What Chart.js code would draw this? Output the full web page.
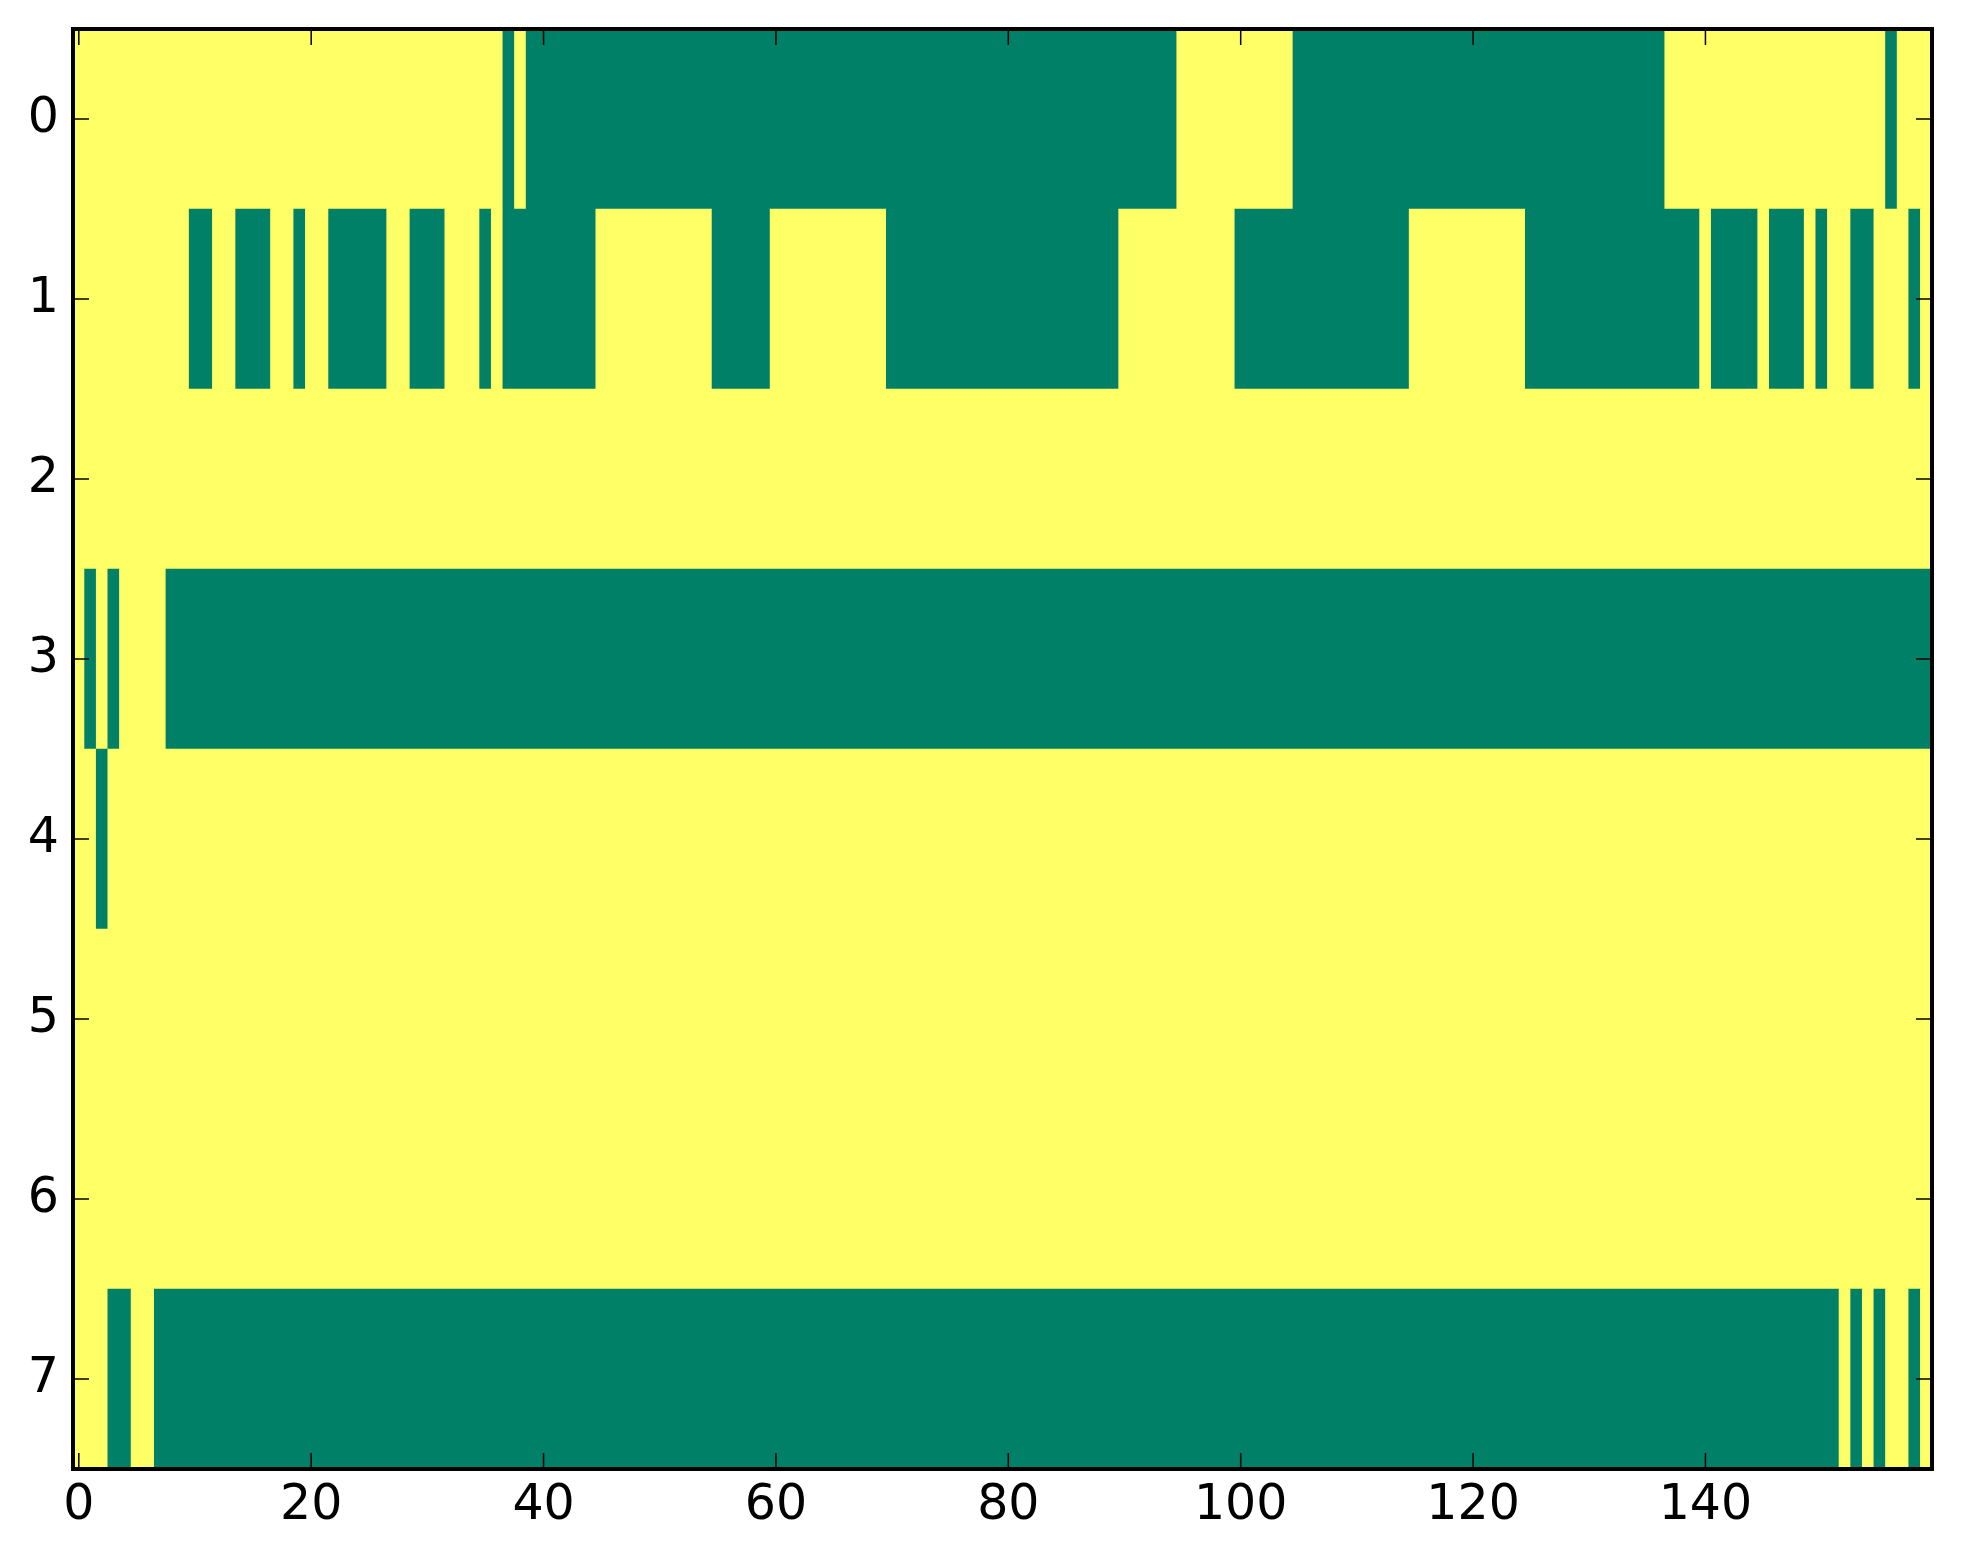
<!DOCTYPE html>
<html>
<head>
<meta charset="utf-8">
<script src="https://cdn.jsdelivr.net/npm/chart.js@4.4.0/dist/chart.umd.min.js"></script>
<style>
  html, body { margin: 0; padding: 0; background: #fff; }
  #wrap { width: 1963px; height: 1564px; }
</style>
</head>
<body>
<div id="wrap"><canvas id="grid"></canvas></div>
<script>
// 8 rows x 160 columns, 1 = high (yellow), 0 = low (green)
const rowLabels = [0, 1, 2, 3, 4, 5, 6, 7]
const xTicks = [0, 20, 40, 60, 80, 100, 120, 140]

const row0 = [
  1,1,1,1,1,1,1,1,1,1,1,1,1,1,1,1,1,1,1,1,
  1,1,1,1,1,1,1,1,1,1,1,1,1,1,1,1,1,0,1,0,
  0,0,0,0,0,0,0,0,0,0,0,0,0,0,0,0,0,0,0,0,
  0,0,0,0,0,0,0,0,0,0,0,0,0,0,0,0,0,0,0,0,
  0,0,0,0,0,0,0,0,0,0,0,0,0,0,0,1,1,1,1,1,
  1,1,1,1,1,0,0,0,0,0,0,0,0,0,0,0,0,0,0,0,
  0,0,0,0,0,0,0,0,0,0,0,0,0,0,0,0,0,1,1,1,
  1,1,1,1,1,1,1,1,1,1,1,1,1,1,1,1,0,1,1,1
]
const row1 = [
  1,1,1,1,1,1,1,1,1,1,0,0,1,1,0,0,0,1,1,0,
  1,1,0,0,0,0,0,1,1,0,0,0,1,1,1,0,1,0,0,0,
  0,0,0,0,0,1,1,1,1,1,1,1,1,1,1,0,0,0,0,0,
  1,1,1,1,1,1,1,1,1,1,0,0,0,0,0,0,0,0,0,0,
  0,0,0,0,0,0,0,0,0,0,1,1,1,1,1,1,1,1,1,1,
  0,0,0,0,0,0,0,0,0,0,0,0,0,0,0,1,1,1,1,1,
  1,1,1,1,1,0,0,0,0,0,0,0,0,0,0,0,0,0,0,0,
  1,0,0,0,0,1,0,0,0,1,0,1,1,0,0,1,1,1,0,1
]
const row2 = [
  1,1,1,1,1,1,1,1,1,1,1,1,1,1,1,1,1,1,1,1,
  1,1,1,1,1,1,1,1,1,1,1,1,1,1,1,1,1,1,1,1,
  1,1,1,1,1,1,1,1,1,1,1,1,1,1,1,1,1,1,1,1,
  1,1,1,1,1,1,1,1,1,1,1,1,1,1,1,1,1,1,1,1,
  1,1,1,1,1,1,1,1,1,1,1,1,1,1,1,1,1,1,1,1,
  1,1,1,1,1,1,1,1,1,1,1,1,1,1,1,1,1,1,1,1,
  1,1,1,1,1,1,1,1,1,1,1,1,1,1,1,1,1,1,1,1,
  1,1,1,1,1,1,1,1,1,1,1,1,1,1,1,1,1,1,1,1
]
const row3 = [
  1,0,1,0,1,1,1,1,0,0,0,0,0,0,0,0,0,0,0,0,
  0,0,0,0,0,0,0,0,0,0,0,0,0,0,0,0,0,0,0,0,
  0,0,0,0,0,0,0,0,0,0,0,0,0,0,0,0,0,0,0,0,
  0,0,0,0,0,0,0,0,0,0,0,0,0,0,0,0,0,0,0,0,
  0,0,0,0,0,0,0,0,0,0,0,0,0,0,0,0,0,0,0,0,
  0,0,0,0,0,0,0,0,0,0,0,0,0,0,0,0,0,0,0,0,
  0,0,0,0,0,0,0,0,0,0,0,0,0,0,0,0,0,0,0,0,
  0,0,0,0,0,0,0,0,0,0,0,0,0,0,0,0,0,0,0,0
]
const row4 = [
  1,1,0,1,1,1,1,1,1,1,1,1,1,1,1,1,1,1,1,1,
  1,1,1,1,1,1,1,1,1,1,1,1,1,1,1,1,1,1,1,1,
  1,1,1,1,1,1,1,1,1,1,1,1,1,1,1,1,1,1,1,1,
  1,1,1,1,1,1,1,1,1,1,1,1,1,1,1,1,1,1,1,1,
  1,1,1,1,1,1,1,1,1,1,1,1,1,1,1,1,1,1,1,1,
  1,1,1,1,1,1,1,1,1,1,1,1,1,1,1,1,1,1,1,1,
  1,1,1,1,1,1,1,1,1,1,1,1,1,1,1,1,1,1,1,1,
  1,1,1,1,1,1,1,1,1,1,1,1,1,1,1,1,1,1,1,1
]
const row5 = [
  1,1,1,1,1,1,1,1,1,1,1,1,1,1,1,1,1,1,1,1,
  1,1,1,1,1,1,1,1,1,1,1,1,1,1,1,1,1,1,1,1,
  1,1,1,1,1,1,1,1,1,1,1,1,1,1,1,1,1,1,1,1,
  1,1,1,1,1,1,1,1,1,1,1,1,1,1,1,1,1,1,1,1,
  1,1,1,1,1,1,1,1,1,1,1,1,1,1,1,1,1,1,1,1,
  1,1,1,1,1,1,1,1,1,1,1,1,1,1,1,1,1,1,1,1,
  1,1,1,1,1,1,1,1,1,1,1,1,1,1,1,1,1,1,1,1,
  1,1,1,1,1,1,1,1,1,1,1,1,1,1,1,1,1,1,1,1
]
const row6 = [
  1,1,1,1,1,1,1,1,1,1,1,1,1,1,1,1,1,1,1,1,
  1,1,1,1,1,1,1,1,1,1,1,1,1,1,1,1,1,1,1,1,
  1,1,1,1,1,1,1,1,1,1,1,1,1,1,1,1,1,1,1,1,
  1,1,1,1,1,1,1,1,1,1,1,1,1,1,1,1,1,1,1,1,
  1,1,1,1,1,1,1,1,1,1,1,1,1,1,1,1,1,1,1,1,
  1,1,1,1,1,1,1,1,1,1,1,1,1,1,1,1,1,1,1,1,
  1,1,1,1,1,1,1,1,1,1,1,1,1,1,1,1,1,1,1,1,
  1,1,1,1,1,1,1,1,1,1,1,1,1,1,1,1,1,1,1,1
]
const row7 = [
  1,1,1,0,0,1,1,0,0,0,0,0,0,0,0,0,0,0,0,0,
  0,0,0,0,0,0,0,0,0,0,0,0,0,0,0,0,0,0,0,0,
  0,0,0,0,0,0,0,0,0,0,0,0,0,0,0,0,0,0,0,0,
  0,0,0,0,0,0,0,0,0,0,0,0,0,0,0,0,0,0,0,0,
  0,0,0,0,0,0,0,0,0,0,0,0,0,0,0,0,0,0,0,0,
  0,0,0,0,0,0,0,0,0,0,0,0,0,0,0,0,0,0,0,0,
  0,0,0,0,0,0,0,0,0,0,0,0,0,0,0,0,0,0,0,0,
  0,0,0,0,0,0,0,0,0,0,0,0,1,0,1,0,1,1,0,1
]

const rows = [row0, row1, row2, row3, row4, row5, row6, row7]
const colors = { 0: '#008066', 1: '#ffff66' }

// merge equal neighbours into one floating bar, otherwise the cell edges show seams
const runs = []
rows.forEach((row, r) => {
  let start = 0
  for (let c = 1; c <= row.length; c++) {
    if (c === row.length || row[c] !== row[start]) {
      runs.push({ y: rowLabels[r], x: [start - 0.5, c - 0.5], v: row[start] })
      start = c
    }
  }
})

const tickFont = { family: 'DejaVu Sans', size: 49 }

// black box plus inward ticks on all four sides, like the classic style
const frame = {
  id: 'frame',
  afterDatasetsDraw(chart) {
    const { ctx, chartArea: a, scales: { x, y } } = chart
    ctx.save()
    ctx.strokeStyle = '#000'
    ctx.lineWidth = 1.5
    ctx.beginPath()
    xTicks.forEach(v => {
      const px = x.getPixelForValue(v)
      ctx.moveTo(px, a.bottom); ctx.lineTo(px, a.bottom - 16)
      ctx.moveTo(px, a.top); ctx.lineTo(px, a.top + 16)
    })
    rowLabels.forEach(v => {
      const py = y.getPixelForValue(v)
      ctx.moveTo(a.left, py); ctx.lineTo(a.left + 16, py)
      ctx.moveTo(a.right, py); ctx.lineTo(a.right - 16, py)
    })
    ctx.stroke()
    ctx.lineWidth = 4
    ctx.strokeRect(a.left, a.top, a.right - a.left, a.bottom - a.top)
    ctx.restore()
  }
}

new Chart(document.getElementById('grid'), {
  type: 'bar',
  data: {
    datasets: [{
      data: runs,
      backgroundColor: ctx => ctx.raw ? colors[ctx.raw.v] : colors[1],
      borderWidth: 0,
      categoryPercentage: 1,
      barPercentage: 1
    }]
  },
  options: {
    indexAxis: 'y',
    responsive: true,
    maintainAspectRatio: false,
    animation: false,
    layout: { padding: { top: 29, right: 31, left: 0, bottom: 0 } },
    plugins: {
      legend: { display: false },
      tooltip: { enabled: false }
    },
    scales: {
      x: {
        type: 'linear',
        min: -0.5,
        max: 159.5,
        offset: false,
        grid: { display: false, drawTicks: false, tickLength: 0 },
        border: { display: false },
        afterBuildTicks: s => { s.ticks = xTicks.map(v => ({ value: v })) },
        afterFit: s => { s.height = 95; s.paddingLeft = 0; s.paddingRight = 0 },
        ticks: { color: '#000', font: tickFont, padding: 8, maxRotation: 0, autoSkip: false }
      },
      y: {
        type: 'linear',
        reverse: true,
        min: -0.5,
        max: 7.5,
        offset: false,
        grid: { display: false, drawTicks: false, tickLength: 0 },
        border: { display: false },
        afterBuildTicks: s => { s.ticks = rowLabels.map(v => ({ value: v })) },
        afterFit: s => { s.width = 73; s.paddingTop = 0; s.paddingBottom = 0 },
        ticks: { color: '#000', font: tickFont, padding: 14, autoSkip: false }
      }
    }
  },
  plugins: [frame]
})
</script>
</body>
</html>
